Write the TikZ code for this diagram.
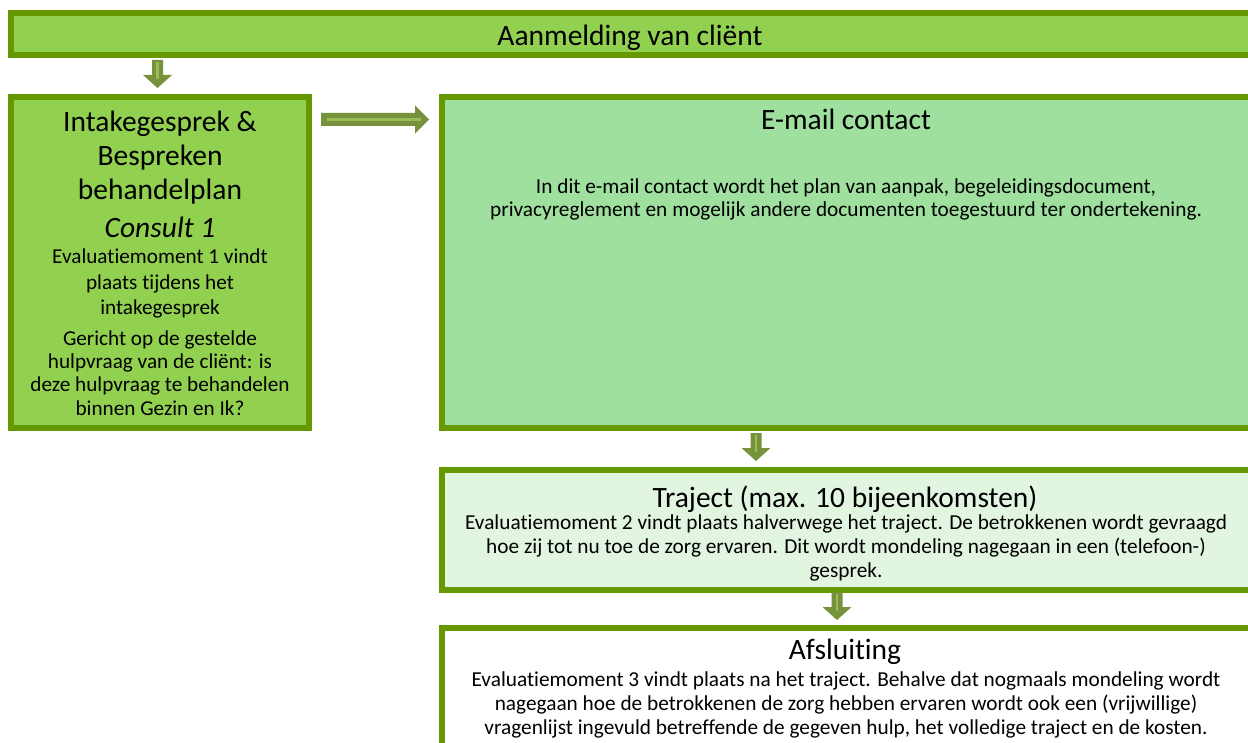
\documentclass[tikz,border=0pt]{standalone}
\usepackage{fontspec}
\setmainfont{Carlito}[Ligatures=NoCommon]
\usetikzlibrary{calc}
\definecolor{bord}{HTML}{669900}
\definecolor{topfill}{HTML}{92D050}
\definecolor{mailfill}{HTML}{9FE09F}
\definecolor{trajfill}{HTML}{E2F5E0}
\definecolor{arrowc}{HTML}{76923C}
\definecolor{stripec}{HTML}{9BBB59}
\tikzset{
  box/.style={draw=bord,line width=6pt,inner sep=0pt,outer sep=0pt,rectangle},
  big/.style={font=\fontsize{29.5}{34}\selectfont,align=center,inner sep=0pt},
  head/.style={font=\fontsize{29.5}{34}\selectfont,align=center,inner sep=0pt},
  body/.style={font=\fontsize{21.3}{24}\selectfont,align=center,inner sep=0pt},
  darrow/.pic={
    \fill[arrowc] (-5.5,0) -- (5.5,0) -- (5.5,15) -- (14.5,15) -- (0,28) -- (-14.5,15) -- (-5.5,15) -- cycle;
    \fill[stripec] (-1.3,2) rectangle (1.3,19);
  },
  rarrow/.pic={
    \fill[arrowc] (0,-6.5) -- (94,-6.5) -- (94,-14) -- (108,0) -- (94,14) -- (94,6.5) -- (0,6.5) -- cycle;
    \fill[stripec] (6,-1.3) rectangle (100,1.3);
  }
}
\begin{document}
\begin{tikzpicture}[x=1pt,y=-1pt]
\useasboundingbox[fill=white] (0,0) rectangle (1248,743);
% boxes
\node[box,fill=topfill,minimum width=1240pt,minimum height=42pt] (top) at (631,34) {};
\node[box,fill=topfill,minimum width=298pt,minimum height=331pt] (intake) at (160,262.5) {};
\node[box,fill=mailfill,minimum width=809pt,minimum height=331pt] (mail) at (846.5,262.5) {};
\node[box,fill=trajfill,minimum width=809pt,minimum height=120pt] (traj) at (846.5,530) {};
\node[box,fill=white,minimum width=809pt,minimum height=140pt] (afs) at (846.5,698) {};
% arrows
\pic at (157.5,60) {darrow};
\pic at (321,119.5) {rarrow};
\pic at (756,433) {darrow};
\pic at (837,592) {darrow};
% texts
\node[font=\fontsize{29.5}{34}\selectfont,inner sep=0pt] (t0) at (630,37.5) {Aanmelding van cliënt};
\node[big] (t1) at (160,158) {Intakegesprek \&\\Bespreken\\behandelplan};
\node[big,font=\fontsize{29.5}{34}\itshape] (t2) at (160,227.5) {Consult 1};
\node[body,font=\fontsize{21.2}{25.5}\selectfont] (t3) at (160,283.5) {Evaluatiemoment 1 vindt\\plaats tijdens het\\intakegesprek};
\node[body,font=\fontsize{21.2}{23.3}\selectfont] (t4) at (160,373) {Gericht op de gestelde\\hulpvraag van de cliënt: is\\deze hulpvraag te behandelen\\binnen Gezin en Ik?};
\node[head] (m1) at (846,119) {E-mail contact};
\node[body,font=\fontsize{21.3}{23}\selectfont] (m2) at (846,199.5) {In dit e-mail contact wordt het plan van aanpak, begeleidingsdocument,\\privacyreglement en mogelijk andere documenten toegestuurd ter ondertekening.};
\node[head] (r1) at (845,499) {Traject (max. 10 bijeenkomsten)};
\node[body] (r2) at (846,548) {Evaluatiemoment 2 vindt plaats halverwege het traject. De betrokkenen wordt gevraagd\\hoe zij tot nu toe de zorg ervaren. Dit wordt mondeling nagegaan in een (telefoon-)\\gesprek.};
\node[head] (a1) at (845,652) {Afsluiting};
\node[body] (a2) at (846,705) {Evaluatiemoment 3 vindt plaats na het traject. Behalve dat nogmaals mondeling wordt\\nagegaan hoe de betrokkenen de zorg hebben ervaren wordt ook een (vrijwillige)\\vragenlijst ingevuld betreffende de gegeven hulp, het volledige traject en de kosten.};
\end{tikzpicture}
\end{document}
